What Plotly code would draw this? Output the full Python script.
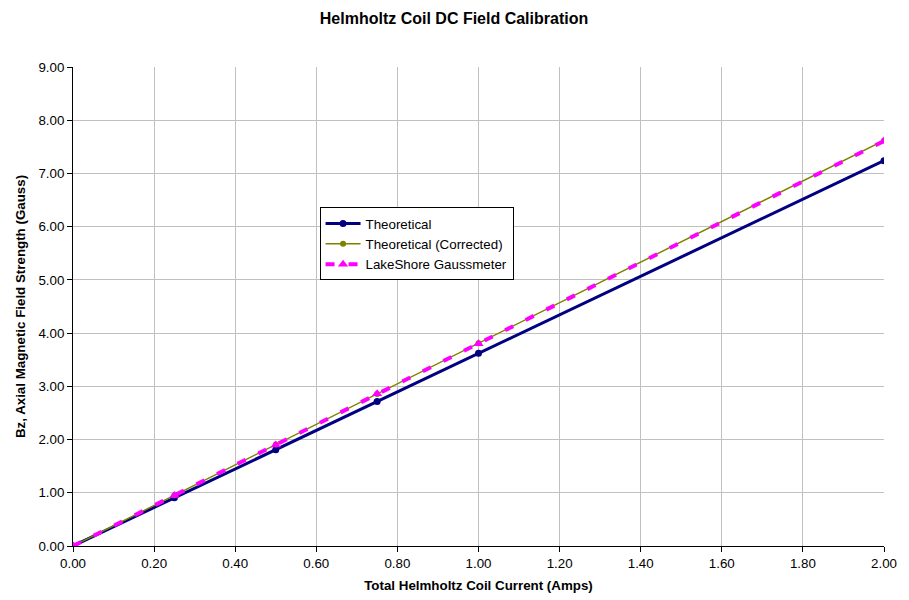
import plotly.graph_objects as go

current = [0.0, 0.25, 0.5, 0.75, 1.0, 2.0]
theoretical = [0.0, 0.905, 1.81, 2.715, 3.62, 7.24]
corrected = [0.0, 0.953, 1.905, 2.858, 3.81, 7.62]
lakeshore = [0.0, 0.95, 1.90, 2.86, 3.80, 7.61]

x_ticks = [0.0, 0.2, 0.4, 0.6, 0.8, 1.0, 1.2, 1.4, 1.6, 1.8, 2.0]
y_ticks = [0, 1, 2, 3, 4, 5, 6, 7, 8, 9]

FONT = "Liberation Sans, Arial, sans-serif"

fig = go.Figure()
fig.add_trace(go.Scatter(
    x=current, y=theoretical, name="Theoretical", mode="lines+markers",
    line=dict(color="#000080", width=3),
    marker=dict(symbol="circle", size=7, color="#000080"),
))
fig.add_trace(go.Scatter(
    x=current, y=corrected, name="Theoretical (Corrected)", mode="lines+markers",
    line=dict(color="#808000", width=1.5),
    marker=dict(symbol="circle", size=6, color="#808000"),
))
fig.add_trace(go.Scatter(
    x=current, y=lakeshore, name="LakeShore Gaussmeter", mode="lines+markers",
    line=dict(color="#FF00FF", width=4, dash="9px,14px"),
    marker=dict(symbol="triangle-up", size=9, color="#FF00FF"),
))

# page body has an 8px margin in the browser, compensate in margins
fig.update_layout(
    width=909, height=600,
    margin=dict(l=61, r=33, t=59, b=62),
    paper_bgcolor="white", plot_bgcolor="white",
    font=dict(family=FONT, size=13.33, color="black"),
    title=dict(text="<b>Helmholtz Coil DC Field Calibration</b>",
               x=(454 - 8) / 909, xanchor="center", y=1 - 10 / 600, yanchor="middle",
               font=dict(size=16, family=FONT, color="black")),
    legend=dict(x=0.304, y=0.707, xanchor="left", yanchor="top",
                bordercolor="black", borderwidth=1, bgcolor="white",
                font=dict(size=13.33, family=FONT, color="black"),
                itemwidth=35),
    showlegend=True,
)
fig.update_xaxes(
    range=[0, 2], tickvals=x_ticks, tickformat=".2f",
    showgrid=True, gridcolor="#c0c0c0", gridwidth=1,
    showline=True, linecolor="black", linewidth=1,
    ticks="outside", ticklen=5, tickcolor="black",
    zeroline=False,
    tickfont=dict(size=13.33, family=FONT),
    title=dict(text="<b>Total Helmholtz Coil Current (Amps)</b>",
               font=dict(size=13.33, family=FONT), standoff=10),
)
fig.update_yaxes(
    range=[0, 9], tickvals=y_ticks, tickformat=".2f",
    showgrid=True, gridcolor="#c0c0c0", gridwidth=1,
    showline=True, linecolor="black", linewidth=1,
    ticks="outside", ticklen=5, tickcolor="black",
    zeroline=False,
    tickfont=dict(size=13.33, family=FONT),
    title=dict(text="<b>Bz, Axial Magnetic Field Strength (Gauss)</b>",
               font=dict(size=13.33, family=FONT), standoff=9),
)

fig.write_html("out.html")
